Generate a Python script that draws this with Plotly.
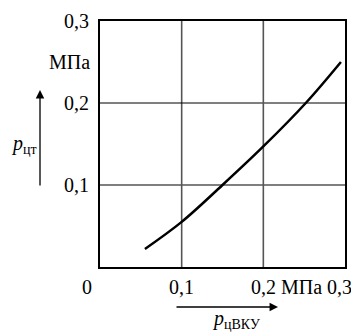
import plotly.graph_objects as go

# data
p_vku = [0.055, 0.1, 0.15, 0.2, 0.252, 0.295]
p_ct = [0.022, 0.055, 0.1, 0.147, 0.2, 0.25]
grid_vals = [0.1, 0.2]
x_tick_labels = ["0,1", "0,2", "0,3"]
y_tick_labels = ["0,1", "0,2", "0,3"]
tick_vals = [0.1, 0.2, 0.3]
unit = "МПа"

FONT = dict(family="Liberation Serif, Times New Roman, serif", size=20, color="black")

fig = go.Figure()
fig.add_trace(go.Scatter(x=p_vku, y=p_ct, mode="lines",
                         line=dict(color="black", width=2.5, shape="spline"),
                         hoverinfo="skip", showlegend=False))

# horizontal gridlines (black) and vertical gridlines (gray)
for v in grid_vals:
    fig.add_shape(type="line", xref="x", yref="y", x0=0, x1=0.3, y0=v, y1=v,
                  line=dict(color="black", width=1.2), layer="below")
    fig.add_shape(type="line", xref="x", yref="y", x0=v, x1=v, y0=0, y1=0.3,
                  line=dict(color="#555555", width=1.6), layer="below")

fig.update_xaxes(range=[0, 0.3], showgrid=False, zeroline=False, showticklabels=False,
                 showline=True, mirror=True, linecolor="black", linewidth=1.5, ticks="")
fig.update_yaxes(range=[0, 0.3], showgrid=False, zeroline=False, showticklabels=False,
                 showline=True, mirror=True, linecolor="black", linewidth=1.5, ticks="")

ann = []
# y tick labels
for v, t in zip(tick_vals, y_tick_labels):
    ann.append(dict(x=0, y=v, xref="x", yref="y", text=t, showarrow=False,
                    xanchor="right", yanchor="middle", xshift=-9, font=FONT))
ann.append(dict(x=0, y=0.25, xref="x", yref="y", text=unit, showarrow=False,
                xanchor="right", yanchor="middle", xshift=-8, font=FONT))
# x tick labels
ann.append(dict(x=0, y=0, xref="x", yref="y", text="0", showarrow=False,
                xanchor="center", yanchor="middle", xshift=-13, yshift=-20, font=FONT))
for v, t in zip(tick_vals, x_tick_labels):
    if v == 0.3:
        ann.append(dict(x=v, y=0, xref="x", yref="y", text=t, showarrow=False,
                        xanchor="right", yanchor="middle", yshift=-20, xshift=9, font=FONT))
    else:
        ann.append(dict(x=v, y=0, xref="x", yref="y", text=t, showarrow=False,
                        xanchor="center", yanchor="middle", yshift=-20, font=FONT))
ann.append(dict(x=0.25, y=0, xref="x", yref="y", text=unit, showarrow=False,
                xanchor="center", yanchor="middle", yshift=-20, xshift=-3, font=FONT))

# axis name arrows
ann.append(dict(x=(40 - 100) / 245, y=(267 - 90) / 246, xref="paper", yref="paper",
                ax=0, ay=97, text="", showarrow=True,
                arrowhead=2, arrowsize=1.3, arrowwidth=1.3, arrowcolor="black"))
ann.append(dict(x=(278 - 100) / 245, y=(267 - 307) / 246, xref="paper", yref="paper",
                ax=-103, ay=0, text="", showarrow=True,
                arrowhead=2, arrowsize=1.3, arrowwidth=1.3, arrowcolor="black"))
# axis names
ann.append(dict(x=(24 - 100) / 245, y=(267 - 144) / 246, xref="paper", yref="paper",
                text="<i>p</i><sub>цт</sub>", showarrow=False,
                xanchor="center", yanchor="middle", font=FONT))
ann.append(dict(x=(236 - 100) / 245, y=(267 - 319) / 246, xref="paper", yref="paper",
                text="<i>p</i><sub>цВКУ</sub>", showarrow=False,
                xanchor="center", yanchor="middle", font=FONT))

# page body has an 8px margin, so the figure is 8px smaller with margins shifted
fig.update_layout(width=351, height=325, margin=dict(l=92, r=14, t=13, b=66),
                  plot_bgcolor="white", paper_bgcolor="white", annotations=ann,
                  showlegend=False)

fig.write_html("out.html")
